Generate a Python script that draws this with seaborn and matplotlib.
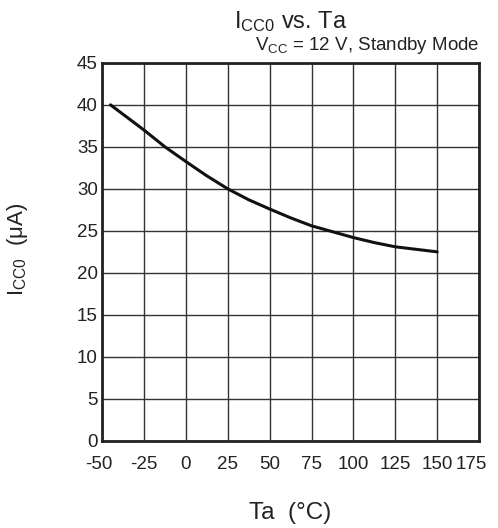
import matplotlib
matplotlib.use("Agg")
import matplotlib.pyplot as plt
import matplotlib.transforms as mtransforms
import seaborn as sns
import pandas as pd

temps = [-45, -25, -12.5, 0, 12.5, 25, 37.5, 50, 62.5, 75, 87.5, 100, 112.5, 125, 137.5, 150]
icc0 = [40.0, 37.0, 35.0, 33.25, 31.55, 30.0, 28.7, 27.6, 26.55, 25.6, 24.9, 24.2, 23.6, 23.1, 22.8, 22.5]
xticks = [-50, -25, 0, 25, 50, 75, 100, 125, 150, 175]
yticks = [0, 5, 10, 15, 20, 25, 30, 35, 40, 45]

sns.set_theme(style="white")
plt.rcParams['font.family'] = ['Liberation Sans', 'DejaVu Sans']
plt.rcParams['mathtext.fontset'] = 'custom'
plt.rcParams['mathtext.rm'] = 'Liberation Sans'
plt.rcParams['mathtext.it'] = 'Liberation Sans'

df = pd.DataFrame({"Ta": temps, "Icc0": icc0})

fig = plt.figure(figsize=(4.98, 5.28), dpi=100)
ax = fig.add_axes([0.205, 0.165, 0.757, 0.716])
sns.lineplot(data=df, x="Ta", y="Icc0", ax=ax, color="#111111", linewidth=2.2)

ax.set_xlim(-50, 175)
ax.set_ylim(0, 45)
ax.set_xticks(xticks)
ax.set_yticks(yticks)
ax.set_xticklabels([str(t) for t in xticks], fontsize=13.5)
ax.set_yticklabels([str(t) for t in yticks], fontsize=13.5)
ax.grid(True, color="#333333", linewidth=1.0)
ax.tick_params(axis="y", length=0, pad=3, colors="#222222")
ax.tick_params(axis="x", length=0, pad=11, colors="#222222")
for s in ax.spines.values():
    s.set_visible(True)
    s.set_color("#222222")
    s.set_linewidth(2.0)

# nudge the last x tick label left, as in the reference
lbls = ax.get_xticklabels()
shift = mtransforms.ScaledTranslation(-8 / 100, 0, fig.dpi_scale_trans)
lbls[-1].set_transform(lbls[-1].get_transform() + shift)
shift0 = mtransforms.ScaledTranslation(-3 / 100, 0, fig.dpi_scale_trans)
lbls[0].set_transform(lbls[0].get_transform() + shift0)

ax.set_xlabel("Ta  (°C)", fontsize=17.5, color="#222222")
ax.xaxis.set_label_coords(0.5, -0.19)
ax.xaxis.label.set_va("center")
ax.set_ylabel(r"I$_{\mathrm{CC0}}$  (μA)", fontsize=16, color="#222222")
ax.yaxis.set_label_coords(-0.225, 0.508)
ax.yaxis.label.set_va("center")
ax.set_title(r"I$_{\mathrm{CC0}}$ vs. Ta", fontsize=17, pad=25, color="#222222")
ax.text(1.0, 1.033, r"V$_{\mathrm{CC}}$ = 12 V, Standby Mode", transform=ax.transAxes,
        ha="right", va="baseline", fontsize=13.5, color="#222222")

fig.savefig("out.png", dpi=100)
